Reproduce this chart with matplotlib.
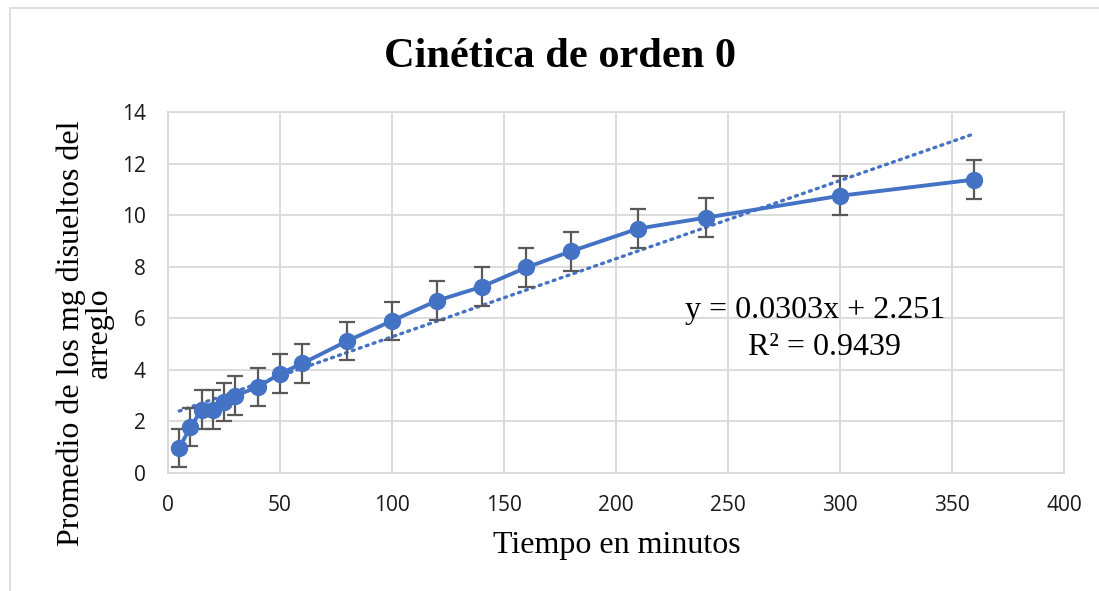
import matplotlib
matplotlib.use("Agg")
import matplotlib.pyplot as plt
import numpy as np

# tiempo (min) vs promedio de mg disueltos
tiempo = [5, 10, 15, 20, 25, 30, 40, 50, 60, 80, 100, 120, 140, 160, 180, 210, 240, 300, 360]
promedio = [0.97, 1.78, 2.45, 2.45, 2.75, 3.0, 3.33, 3.85, 4.25, 5.12, 5.9, 6.68, 7.22,
            7.97, 8.6, 9.48, 9.9, 10.75, 11.38]
error = 0.75

# linea de tendencia reportada
pendiente = 0.0303
intercepto = 2.251
r2 = 0.9439

azul = "#4472C4"
serif = "Liberation Serif"

fig = plt.figure(figsize=(10.99, 5.91), dpi=100)
ax = fig.add_axes([0.1529, 0.1997, 0.8153, 0.6108])

ax.errorbar(tiempo, promedio, yerr=error, color=azul, lw=2.8, marker="o", ms=11.5,
            ecolor="#595959", elinewidth=1.6, capsize=6, capthick=1.6, zorder=3)

xt = np.array([tiempo[0], tiempo[-1]])
ax.plot(xt, pendiente * xt + intercepto, color=azul, lw=2.4, ls=(0, (0.6, 1.6)),
        dash_capstyle="round", zorder=2)

ax.set_xlim(0, 400)
ax.set_ylim(0, 14)
ax.set_xticks(range(0, 401, 50))
ax.set_yticks(range(0, 15, 2))
ax.grid(True, color="#d9d9d9", lw=1.3)
ax.set_axisbelow(True)
for s in ax.spines.values():
    s.set_color("#d9d9d9")
    s.set_linewidth(1.3)
ax.tick_params(axis="x", length=0, labelsize=15, pad=16)
ax.tick_params(axis="y", length=0, labelsize=15, pad=16)
for lab in ax.get_xticklabels() + ax.get_yticklabels():
    lab.set_fontfamily("Open Sans")
    lab.set_color("#1a1a1a")

ax.text(289, 6.32, f"y = {pendiente}x + {intercepto}", fontsize=23, family=serif,
        ha="center", va="center")
ax.text(293, 4.88, f"R² = {r2}", fontsize=23, family=serif, ha="center", va="center")

fig.text(0.51, 1 - 57 / 591, "Cinética de orden 0", fontsize=30.5, fontweight="bold",
         family=serif, ha="center", va="center")
fig.text(617 / 1099, 1 - 545 / 591, "Tiempo en minutos", fontsize=23, family=serif,
         ha="center", va="center")
fig.text(85 / 1099, 1 - 333 / 591, "Promedio de los mg disueltos del\narreglo",
         fontsize=23, family=serif, rotation=90, ha="center", va="center",
         multialignment="center", linespacing=0.95)

# marco del area del grafico
fig.patches.append(plt.Rectangle((0.009, -0.01), 1.0, 0.997, transform=fig.transFigure,
                                 fill=False, ec="#d9d9d9", lw=1.2))

fig.savefig("out.png", dpi=100)
